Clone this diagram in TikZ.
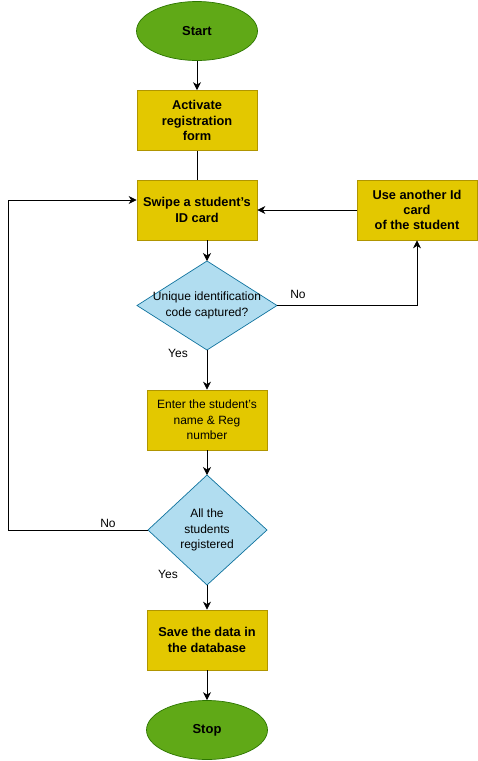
\documentclass[tikz,border=0pt]{standalone}
\usepackage{fontspec}
\setmainfont{Liberation Sans}
\usetikzlibrary{shapes.geometric,arrows.meta}
\definecolor{termfill}{HTML}{60A917}
\definecolor{termline}{HTML}{2D7600}
\definecolor{procfill}{HTML}{E3C800}
\definecolor{procline}{HTML}{B09500}
\definecolor{decfill}{HTML}{B1DDF0}
\definecolor{decline}{HTML}{10739E}
\tikzset{
  x=1pt, y=-1pt,
  every node/.style={font=\fontsize{12}{15.3}\selectfont, align=center, inner sep=0pt},
  terminal/.style={ellipse, draw=termline, fill=termfill, line width=0.7pt,
    minimum width=121pt, minimum height=59pt, font=\fontsize{13}{15.3}\selectfont\bfseries},
  procbox/.style={rectangle, draw=procline, fill=procfill, line width=0.7pt,
    minimum width=120pt, minimum height=60pt},
  boldbox/.style={procbox, font=\fontsize{12.8}{15.3}\selectfont\bfseries},
  decision/.style={draw=decline, fill=decfill, line width=0.7pt},
  flow/.style={line width=0.8pt, -{Stealth[length=8pt,width=8pt,inset=2.5pt]}},
  plain/.style={line width=0.8pt},
  lbl/.style={font=\fontsize{12}{15.3}\selectfont}
}
\begin{document}
\begin{tikzpicture}
\useasboundingbox (0,0) rectangle (478,761);

% terminals and process boxes
\node[terminal] (start) at (197,31) {Start};
\node[boldbox] (activate) at (197,120.5) {Activate\\registration\\form};
\node[boldbox] (swipe) at (197,210) {Swipe a student's\\ID card};
\node[boldbox] (another) at (417,210) {Use another Id\\card\\of the student};
\node[procbox] (enter) at (207,420) {Enter the student's\\name \& Reg\\number};
\node[boldbox] (save) at (207,640) {Save the data in\\the database};
\node[terminal] (stop) at (207,730) {Stop};

% decision diamonds
\draw[decision] (207,261) -- (277,305.5) -- (207,350) -- (137,305.5) -- cycle;
\node (d1) at (207,305.5) {Unique identification\\code captured?};
\coordinate (d1top) at (207,261);
\coordinate (d1right) at (277,305.5);
\coordinate (d1bot) at (207,350);

\draw[decision] (207,475) -- (267,530) -- (207,585) -- (148,530) -- cycle;
\node (d2) at (207,530) {All the\\students\\registered};
\coordinate (d2top) at (207,475);
\coordinate (d2left) at (148,530);
\coordinate (d2bot) at (207,585);

% connectors
\draw[flow] (start.south) -- (activate.north);
\draw[plain] (activate.south) -- (swipe.north);
\draw[flow] (207,240) -- (d1top);
\draw[flow] (another.west) -- (swipe.east);
\coordinate (nocorner) at (417,305.5);
\draw[flow] (d1right) -- (nocorner) -- (another.south);
\draw[flow] (d1bot) -- (enter.north);
\draw[flow] (enter.south) -- (d2top);
\coordinate (loopa) at (8,530);
\coordinate (loopb) at (8,200);
\draw[flow] (d2left) -- (loopa) -- (loopb) -- (swipe.west |- loopb);
\draw[flow] (d2bot) -- (save.north);
\draw[flow] (save.south) -- (stop.north);

% branch labels
\node[lbl] (no1) at (298,294) {No};
\node[lbl] (yes1) at (178,353) {Yes};
\node[lbl] (no2) at (108,523) {No};
\node[lbl] (yes2) at (168,574) {Yes};
\end{tikzpicture}
\end{document}
